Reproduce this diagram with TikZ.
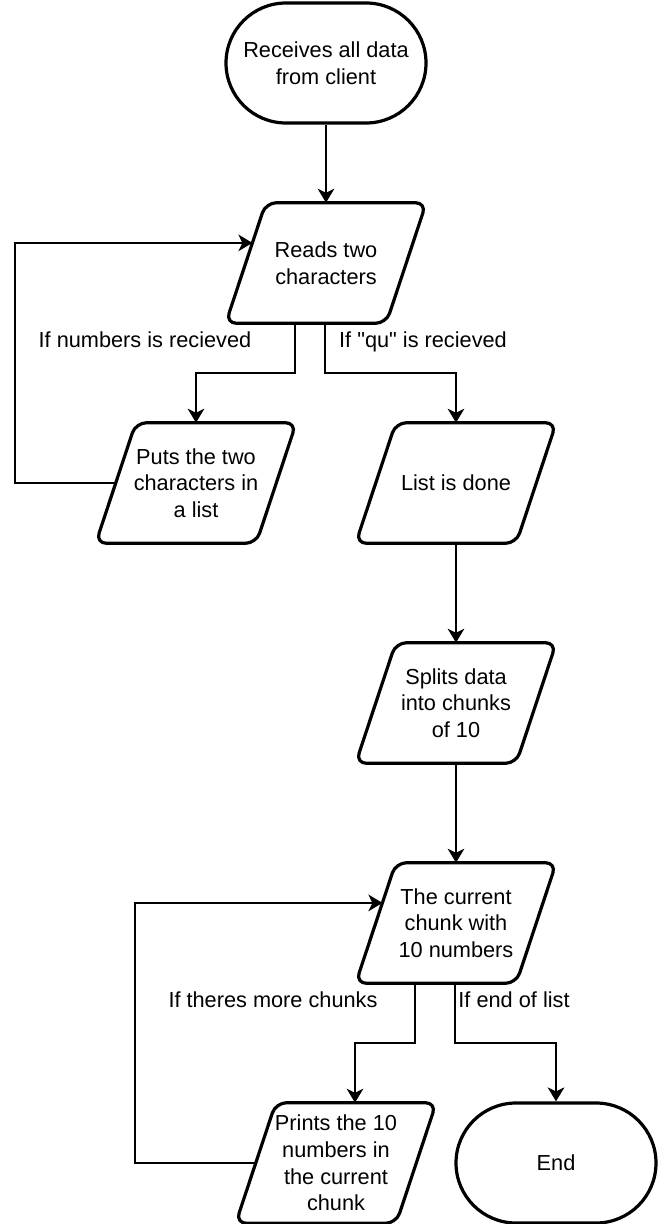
\documentclass[tikz,border=0pt]{standalone}
\usepackage{fontspec}
\newfontfamily\flowfont{Liberation Sans}
\usetikzlibrary{arrows.meta, calc}

\tikzset{
  termbox/.style={draw, line width=2.4pt, rounded corners=45pt, minimum width=150pt, minimum height=90pt, align=center, inner sep=0pt},
  iobox/.style={minimum width=150pt, minimum height=90pt, align=center, inner sep=0pt,
    append after command={\pgfextra{\draw[line width=2.4pt, rounded corners=8pt]
      ([xshift=30pt]\tikzlastnode.north west) -- (\tikzlastnode.north east) -- ([xshift=-30pt]\tikzlastnode.south east) -- (\tikzlastnode.south west) -- cycle;}}},
  flow/.style={draw, line width=1.5pt, -{Stealth[length=10.5pt, width=12.5pt, inset=3pt]}},
  cond/.style={anchor=base, inner sep=0pt},
}

\begin{document}
\begin{tikzpicture}[x=0.75pt, y=-0.75pt, font=\flowfont\fontsize{16.3}{20}\selectfont]
  \useasboundingbox (0,0) rectangle (658,1224);

  % boxes
  \node[termbox] (start) at (326,63) {Receives all data\\from client};
  \node[iobox] (reads) at (326,263) {Reads two\\characters};
  \node[iobox] (puts) at (196,483) {Puts the two\\characters in\\a list};
  \node[iobox] (done) at (456,483) {List is done};
  \node[iobox] (split) at (456,703) {Splits data\\into chunks\\of 10};
  \node[iobox] (chunk) at (456,923) {The current\\chunk with\\10 numbers};
  \node[iobox] (prints) at (336,1163) {Prints the 10\\numbers in\\the current\\chunk};
  \node[termbox] (end) at (556,1163) {End};

  % branch labels
  \node[cond] (lnum) at (145,347) {If numbers is recieved};
  \node[cond] (lqu) at (423,347) {If "qu" is recieved};
  \node[cond] (lmore) at (273,1007) {If theres more chunks};
  \node[cond] (lend) at (514,1007) {If end of list};

  % arrows
  \draw[flow] (start) -- (reads);
  \draw[flow] ($(reads.south)+(-31,0)$) -- ++(0,50) -| (puts.north);
  \draw[flow] ($(reads.south)+(-1,0)$) -- ++(0,50) -| (done.north);
  \draw[flow] (done) -- (split);
  \draw[flow] (split) -- (chunk);
  \draw[flow] ($(chunk.south)+(-41,0)$) -- ++(0,60) -| ($(prints.north)+(19,0)$);
  \draw[flow] ($(chunk.south)+(-1,0)$) -- ++(0,60) -| (end.north);

  % loops back
  \draw[flow] ($(puts.south west)!0.5!([xshift=30pt]puts.north west)$) -- ++(-101,0)
    |- ($(reads.south west)!0.6667!([xshift=30pt]reads.north west)$);
  \draw[flow] ($(prints.south west)!0.5!([xshift=30pt]prints.north west)$) -- ++(-121,0)
    |- ($(chunk.south west)!0.6667!([xshift=30pt]chunk.north west)$);
\end{tikzpicture}
\end{document}
